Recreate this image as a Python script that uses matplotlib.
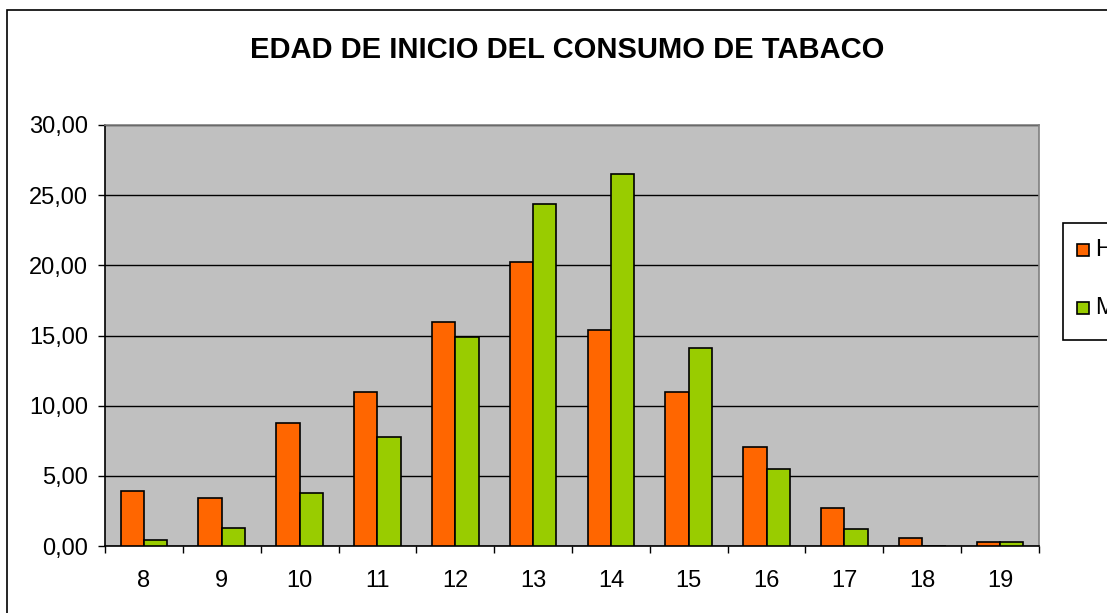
import matplotlib
matplotlib.use("Agg")
import matplotlib.pyplot as plt
import numpy as np
from matplotlib.patches import Rectangle

edades = ["8", "9", "10", "11", "12", "13", "14", "15", "16", "17", "18", "19"]
hombres = [3.92, 3.40, 8.77, 10.98, 15.97, 20.24, 15.40, 10.98, 7.05, 2.73, 0.55, 0.30]
mujeres = [0.40, 1.30, 3.80, 7.77, 14.90, 24.38, 26.50, 14.10, 5.47, 1.19, 0.00, 0.30]
series_names = ["Hombres", "Mujeres"]
colors = ["#FF6600", "#99CC00"]
yticks = [0, 5, 10, 15, 20, 25, 30]

plt.rcParams['font.family'] = ['Liberation Sans', 'DejaVu Sans']

W, H = 1107, 613
fig = plt.figure(figsize=(W / 100, H / 100), dpi=100)
fig.patch.set_facecolor("white")

def fx(px):
    return px / W

def fy(py):
    return 1 - py / H

# outer chart border
fig.add_artist(Rectangle((fx(7), -0.01), fx(W - 7) + 0.01, fy(10) + 0.01, transform=fig.transFigure,
                         fill=False, edgecolor="black", linewidth=1.2))

ax = fig.add_axes([fx(105), fy(546), fx(1039 - 105), (546 - 125) / H])
ax.set_facecolor("#C0C0C0")

x = np.arange(len(edades))
bw = 0.30
ax.bar(x - bw / 2, hombres, bw, color=colors[0], edgecolor="black", linewidth=1.2,
       label=series_names[0], zorder=3)
ax.bar(x + bw / 2, mujeres, bw, color=colors[1], edgecolor="black", linewidth=1.2,
       label=series_names[1], zorder=3)

ax.set_xlim(-0.5, len(edades) - 0.5)
ax.set_ylim(0, 30)
ax.set_yticks(yticks)
ax.set_yticklabels([f"{v:.2f}".replace(".", ",") for v in yticks], fontsize=17)
ax.yaxis.grid(True, color="black", linewidth=1, zorder=1)
ax.set_axisbelow(True)

ax.set_xticks(x)
ax.set_xticklabels(edades, fontsize=17)
ax.tick_params(axis="x", which="major", length=0, pad=17)
ax.set_xticks(np.arange(-0.5, len(edades), 1), minor=True)
ax.tick_params(axis="x", which="minor", length=5, width=1, color="black", direction="out")
ax.tick_params(axis="y", length=5, width=1, direction="out", pad=7)

for s in ["top", "right"]:
    ax.spines[s].set_color("#808080")
    ax.spines[s].set_linewidth(1.2)
for s in ["left", "bottom"]:
    ax.spines[s].set_color("black")
    ax.spines[s].set_linewidth(1.2)

fig.text(fx(567), fy(50), "EDAD DE INICIO DEL CONSUMO DE TABACO", ha="center", va="center",
         fontsize=21, fontweight="bold")

# legend (box runs off the right edge of the chart, as in the original)
fig.add_artist(Rectangle((fx(1063), fy(340)), fx(80), (340 - 223) / H, transform=fig.transFigure,
                         fill=True, facecolor="white", edgecolor="black", linewidth=1.2))
row_y = [250, 308]
for name, col, ry in zip(series_names, colors, row_y):
    fig.add_artist(Rectangle((fx(1077), fy(ry + 6)), fx(12), 12 / H, transform=fig.transFigure,
                             facecolor=col, edgecolor="black", linewidth=1.2))
    fig.text(fx(1095), fy(ry), name, ha="left", va="center", fontsize=17)

fig.savefig("out.png", dpi=100)
